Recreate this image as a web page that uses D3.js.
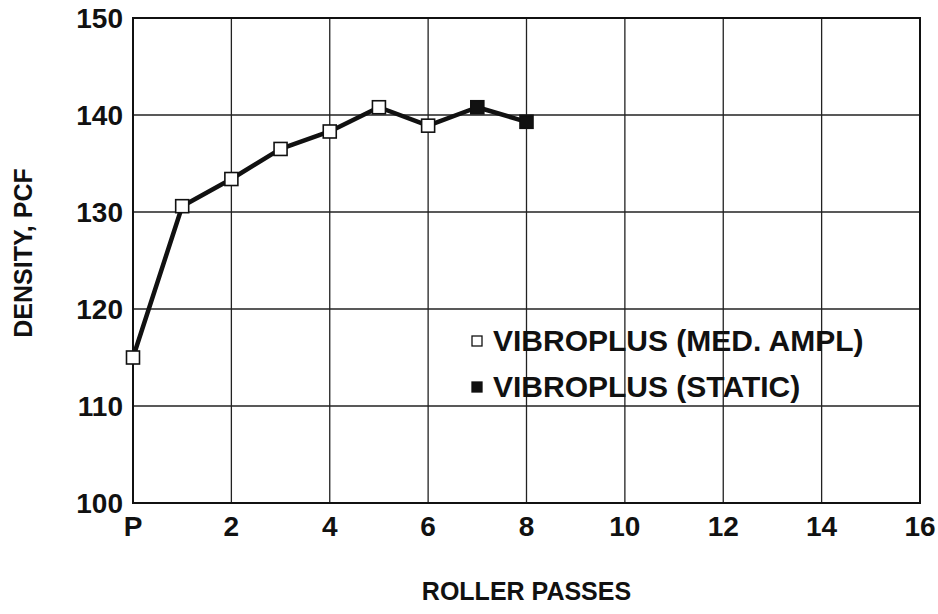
<!DOCTYPE html>
<html>
<head>
<meta charset="utf-8">
<script src="https://cdn.jsdelivr.net/npm/d3@7"></script>
<style>
  body { margin: 0; background: #fff; }
  text { font-family: "Liberation Sans", Arial, sans-serif; font-weight: bold; fill: #111; }
</style>
</head>
<body>
<svg id="chart"></svg>
<script>
var width = 938,
  height = 614;

// roller passes (0 = "P") and measured density, pcf
var passes = [0, 1, 2, 3, 4, 5, 6, 7, 8];
var density = [115, 130.6, 133.4, 136.5, 138.3, 140.8, 138.9, 140.8, 139.3];
var mode = ['med', 'med', 'med', 'med', 'med', 'med', 'med', 'static', 'static'];

var xTicks = [0, 2, 4, 6, 8, 10, 12, 14, 16];
var xTickLabels = ['P', '2', '4', '6', '8', '10', '12', '14', '16'];
var yTicks = [100, 110, 120, 130, 140, 150];
var legendLabels = ['VIBROPLUS (MED. AMPL)', 'VIBROPLUS (STATIC)'];

var margin = {top: 18, right: 18, bottom: 111, left: 133};

var svg = d3.select('#chart')
  .attr('width', width)
  .attr('height', height);

var x = d3.scaleLinear()
  .domain([0, 16])
  .range([margin.left, width - margin.right]);

var y = d3.scaleLinear()
  .domain([100, 150])
  .range([height - margin.bottom, margin.top]);

var g = svg.append('g');

// grid
g.selectAll('.vgrid')
  .data(xTicks)
  .enter().append('line')
  .attr('x1', function(d) { return x(d); })
  .attr('x2', function(d) { return x(d); })
  .attr('y1', y(100))
  .attr('y2', y(150))
  .attr('stroke', '#222')
  .attr('stroke-width', 1.3);

g.selectAll('.hgrid')
  .data(yTicks)
  .enter().append('line')
  .attr('x1', x(0))
  .attr('x2', x(16))
  .attr('y1', function(d) { return y(d); })
  .attr('y2', function(d) { return y(d); })
  .attr('stroke', '#222')
  .attr('stroke-width', 1.3);

g.append('rect')
  .attr('x', x(0))
  .attr('y', y(150))
  .attr('width', x(16) - x(0))
  .attr('height', y(100) - y(150))
  .attr('fill', 'none')
  .attr('stroke', '#111')
  .attr('stroke-width', 2);

// tick labels
g.selectAll('.xlab')
  .data(xTicks)
  .enter().append('text')
  .attr('x', function(d) { return x(d); })
  .attr('y', y(100) + 33)
  .attr('text-anchor', 'middle')
  .attr('font-size', 28)
  .text(function(d, i) { return xTickLabels[i]; });

g.selectAll('.ylab')
  .data(yTicks)
  .enter().append('text')
  .attr('x', x(0) - 10)
  .attr('y', function(d) { return y(d) + 10; })
  .attr('text-anchor', 'end')
  .attr('font-size', 28)
  .text(function(d) { return d; });

// axis titles
g.append('text')
  .attr('x', (x(0) + x(16)) / 2)
  .attr('y', 600)
  .attr('text-anchor', 'middle')
  .attr('font-size', 25)
  .text('ROLLER PASSES');

g.append('text')
  .attr('transform', 'translate(32,' + 253 + ')rotate(-90)')
  .attr('text-anchor', 'middle')
  .attr('font-size', 25)
  .text('DENSITY, PCF');

// data line
var pts = passes.map(function(p, i) { return {p: p, v: density[i], m: mode[i]}; });

var line = d3.line()
  .x(function(d) { return x(d.p); })
  .y(function(d) { return y(d.v); });

g.append('path')
  .datum(pts)
  .attr('d', line)
  .attr('fill', 'none')
  .attr('stroke', '#111')
  .attr('stroke-width', 4.5)
  .attr('stroke-linejoin', 'round');

var s = 13;
g.selectAll('.pt')
  .data(pts)
  .enter().append('rect')
  .attr('x', function(d) { return x(d.p) - s / 2; })
  .attr('y', function(d) { return y(d.v) - s / 2; })
  .attr('width', s)
  .attr('height', s)
  .attr('fill', function(d) { return d.m === 'static' ? '#111' : '#fff'; })
  .attr('stroke', '#111')
  .attr('stroke-width', 1.6);

// legend
var lg = g.append('g').attr('transform', 'translate(477,341)');
lg.selectAll('rect')
  .data(legendLabels)
  .enter().append('rect')
  .attr('x', -5)
  .attr('y', function(d, i) { return i * 46 - 5; })
  .attr('width', 10)
  .attr('height', 10)
  .attr('fill', function(d, i) { return i ? '#111' : '#fff'; })
  .attr('stroke', '#111')
  .attr('stroke-width', 1.3);

lg.selectAll('text')
  .data(legendLabels)
  .enter().append('text')
  .attr('x', 16)
  .attr('y', function(d, i) { return i * 46 + 10; })
  .attr('font-size', 30)
  .text(function(d) { return d; });
</script>
</body>
</html>
